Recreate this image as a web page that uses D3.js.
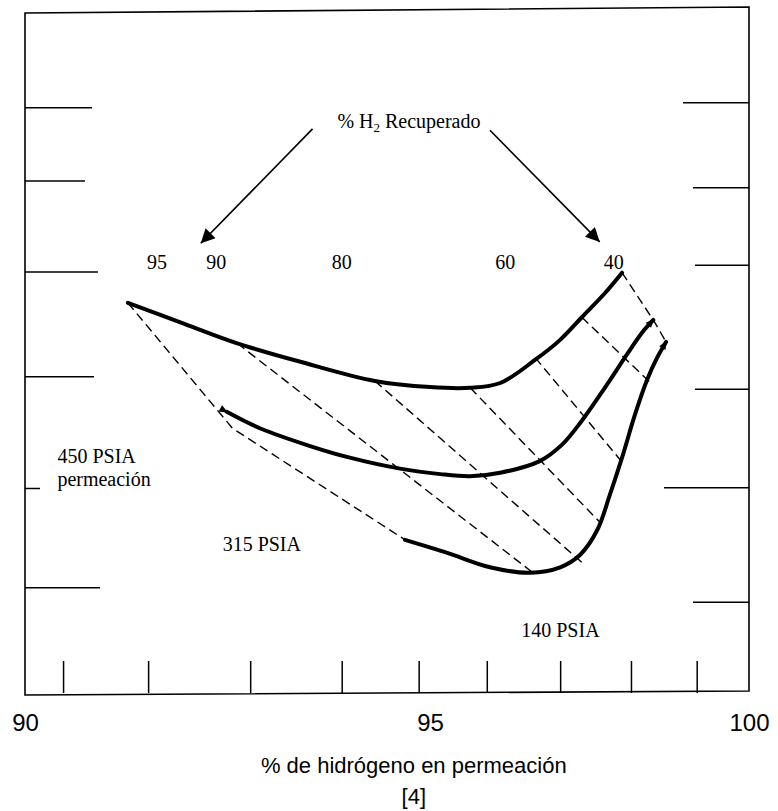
<!DOCTYPE html>
<html><head><meta charset="utf-8">
<script src="https://cdn.jsdelivr.net/npm/d3@7"></script>
<style>html,body{margin:0;padding:0;background:#fff;} svg{display:block}</style>
</head><body>
<svg id="c" width="778" height="811"></svg>
<script>
// ---------- data ----------
const axisLabels = [90, 95, 100];
const bottomTickValues = [90.47, 91.52, 92.78, 93.91, 94.86, 95.89, 97.04, 98.15, 99.18];
const leftTickValues = [85.6, 74.9, 61.6, 46.3, 30.0, 15.5];
const rightTickValues = [86.3, 73.9, 62.6, 44.5, 30.1, 13.4];

// 450 PSIA curve
const p450x = [91.27, 91.91, 92.62, 93.40, 94.32, 95.00, 95.63, 96.10, 96.65, 97.04, 97.38, 97.74, 98.01];
const p450y = [57.1, 54.3, 51.2, 48.5, 45.7, 44.8, 44.7, 45.4, 48.8, 51.7, 55.0, 58.5, 61.5];
// 315 PSIA curve
const p315x = [92.49, 92.90, 93.52, 94.01, 94.63, 95.16, 95.63, 96.10, 96.72, 97.07, 97.38, 97.74, 98.09, 98.32, 98.50];
const p315y = [41.2, 38.8, 36.2, 34.5, 32.9, 32.1, 31.8, 32.3, 34.0, 36.4, 39.9, 44.7, 49.6, 52.7, 54.6];
// 140 PSIA curve
const p140x = [94.69, 95.27, 95.94, 96.57, 97.04, 97.35, 97.62, 97.82, 98.01, 98.21, 98.40, 98.56, 98.70];
const p140y = [22.5, 20.6, 18.5, 17.7, 18.5, 20.3, 23.9, 29.1, 34.5, 40.7, 45.8, 49.1, 51.4];

// constant-recovery (dashed) lines: % H2 recovered
const recovery = [95, 90, 80, 70, 60, 50, 40];
const recoveryX = [
  [91.27, 92.56, 94.72],
  [92.62, 96.60],
  [94.32, 97.43],
  [95.63, 97.66],
  [96.65, 97.98],
  [97.38, 98.46],
  [98.01, 98.50, 98.70]
];
const recoveryY = [
  [57.1, 38.8, 22.3],
  [51.2, 17.8],
  [45.7, 18.8],
  [44.7, 25.1],
  [49.1, 34.2],
  [55.0, 45.4],
  [61.5, 54.6, 51.4]
];

// annotation labels
const recoveryLabels = ["95", "90", "80", "60", "40"];
const recoveryLabelX = [91.63, 92.36, 93.91, 96.18, 97.88];
const recoveryLabelY = 62.0;
const titleH2 = {x: 94.74, y: 82.6};
const arrowFrom = [[93.55, 82.5], [95.94, 82.3]];
const arrowTo = [[92.17, 65.8], [97.66, 66.0]];
const pressureLabels = [["450 PSIA", "permeación"], ["315 PSIA"], ["140 PSIA"]];
const pressureLabelX = [90.40, 92.44, 96.43];
const pressureLabelY = [33.7, 20.9, 8.3];

// ---------- drawing ----------
const svg = d3.select("#c");
const L = 25, R = 749, T = 9, B = 694;
const x = d3.scaleLinear().domain([90, 95, 100]).range([L, 430, R]);
const y = d3.scaleLinear().domain([0, 100]).range([B, T]);

const defs = svg.append("defs");
defs.append("marker").attr("id", "ah").attr("viewBox", "0 0 10 10")
  .attr("refX", 10).attr("refY", 5).attr("markerUnits", "userSpaceOnUse")
  .attr("markerWidth", 20).attr("markerHeight", 14).attr("orient", "auto")
  .append("path").attr("d", "M0,0 L10,5 L0,10 Z").attr("fill", "#000");
defs.append("marker").attr("id", "tip").attr("viewBox", "0 0 10 10")
  .attr("refX", 8).attr("refY", 5).attr("markerUnits", "userSpaceOnUse")
  .attr("markerWidth", 12).attr("markerHeight", 9).attr("orient", "auto")
  .append("path").attr("d", "M0,1 L10,5 L0,9 Z").attr("fill", "#000");

// frame
svg.append("path")
  .attr("d", `M${L},13 L${R},7 L${R},691 L${L},695 Z`)
  .attr("fill", "none").attr("stroke", "#000").attr("stroke-width", 1.6);

// left / right ticks
const leftLen = [67, 60, 73, 69, 15, 75];
const rightLen = [66, 56, 54, 54, 85, 56];
svg.append("g").selectAll("line").data(leftTickValues).join("line")
  .attr("x1", L).attr("x2", (d, i) => L + leftLen[i])
  .attr("y1", d => y(d)).attr("y2", d => y(d))
  .attr("stroke", "#000").attr("stroke-width", 1.5);
svg.append("g").selectAll("line").data(rightTickValues).join("line")
  .attr("x1", (d, i) => R - rightLen[i]).attr("x2", R)
  .attr("y1", d => y(d)).attr("y2", d => y(d))
  .attr("stroke", "#000").attr("stroke-width", 1.5);

// bottom ticks (inside)
const gb = svg.append("g").attr("transform", `translate(0,${B - 1})`)
  .call(d3.axisBottom(x).tickValues(bottomTickValues).tickSize(-32).tickFormat(""));
gb.select(".domain").remove();
gb.selectAll("line").attr("stroke", "#000").attr("stroke-width", 1.5);

// axis labels
const ga = svg.append("g").attr("transform", `translate(0,${B})`)
  .call(d3.axisBottom(x).tickValues(axisLabels).tickSize(0).tickPadding(20).tickFormat(d3.format("d")));
ga.select(".domain").remove();
ga.selectAll("text").attr("font-family", "Liberation Sans, Arial, sans-serif")
  .attr("font-size", 24).attr("fill", "#000");

svg.append("text").attr("x", x(94.8)).attr("y", 773).attr("text-anchor", "middle")
  .attr("font-family", "Liberation Sans, Arial, sans-serif").attr("font-size", 22)
  .text("% de hidrógeno en permeación");
svg.append("text").attr("x", x(94.8)).attr("y", 804).attr("text-anchor", "middle")
  .attr("font-family", "Liberation Sans, Arial, sans-serif").attr("font-size", 22)
  .text("[4]");

// dashed recovery lines
const lin = d3.line().x(d => x(d[0])).y(d => y(d[1]));
svg.append("g").selectAll("path").data(recovery).join("path")
  .attr("d", (d, i) => lin(d3.zip(recoveryX[i], recoveryY[i])))
  .attr("fill", "none").attr("stroke", "#000").attr("stroke-width", 1.4)
  .attr("stroke-dasharray", "9,5");

// pressure curves
const smooth = d3.line().x(d => x(d[0])).y(d => y(d[1])).curve(d3.curveCatmullRom.alpha(0.5));
const curves = [[p450x, p450y], [p315x, p315y], [p140x, p140y]];
svg.append("g").selectAll("path").data(curves).join("path")
  .attr("d", d => smooth(d3.zip(d[0], d[1])))
  .attr("fill", "none").attr("stroke", "#000").attr("stroke-width", 4)
  .attr("stroke-linecap", "round")
  .attr("marker-end", (d, i) => i > 0 ? "url(#tip)" : null)
  .attr("marker-start", (d, i) => i === 1 ? "url(#tip)" : null);

// annotations
const serif = "Liberation Serif, Times New Roman, serif";
const t = svg.append("text").attr("x", x(titleH2.x)).attr("y", y(titleH2.y))
  .attr("text-anchor", "middle").attr("font-family", serif).attr("font-size", 20);
t.append("tspan").text("% H");
t.append("tspan").attr("font-size", 13).attr("dy", 4).text("2");
t.append("tspan").attr("dy", -4).text(" Recuperado");

svg.append("g").selectAll("line").data(arrowFrom).join("line")
  .attr("x1", d => x(d[0])).attr("y1", d => y(d[1]))
  .attr("x2", (d, i) => x(arrowTo[i][0])).attr("y2", (d, i) => y(arrowTo[i][1]))
  .attr("stroke", "#000").attr("stroke-width", 1.6).attr("marker-end", "url(#ah)");

svg.append("g").selectAll("text").data(recoveryLabels).join("text")
  .attr("x", (d, i) => x(recoveryLabelX[i])).attr("y", y(recoveryLabelY))
  .attr("text-anchor", "middle").attr("font-family", serif).attr("font-size", 20)
  .text(d => d);

pressureLabels.forEach((lines, i) => {
  lines.forEach((s, j) => {
    svg.append("text").attr("x", x(pressureLabelX[i])).attr("y", y(pressureLabelY[i]) + j * 23)
      .attr("font-family", serif).attr("font-size", 20).text(s);
  });
});
</script>
</body></html>
